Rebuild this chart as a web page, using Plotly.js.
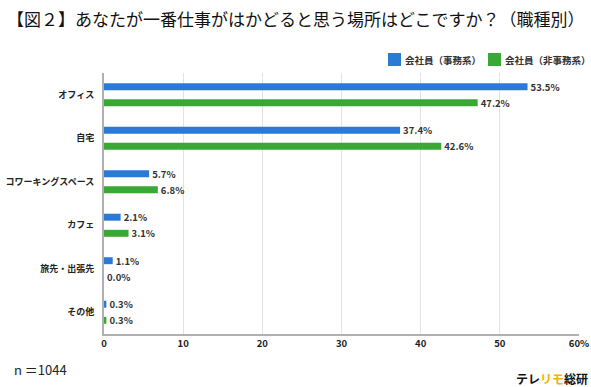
<!DOCTYPE html>
<html><head><meta charset="utf-8">
<script src="https://cdn.plot.ly/plotly-3.0.1.min.js"></script>
<style>body{margin:0;background:#fff}#c{width:591px;height:387px}</style>
</head><body><div id="c"></div>
<script>
const categories = ["オフィス","自宅","コワーキングスペース","カフェ","旅先・出張先","その他"];
const officeWorkers = [53.5, 37.4, 5.7, 2.1, 1.1, 0.3];
const nonOfficeWorkers = [47.2, 42.6, 6.8, 3.1, 0.0, 0.3];
const seriesNames = ["会社員（事務系）","会社員（非事務系）"];
const seriesColors = ['#2a7ad6', '#3aa835'];
const xTickVals = [0,10,20,30,40,50,60];
const xTickText = ["0","10","20","30","40","50","60%"];

const F = "'Noto Sans CJK JP', 'Noto Sans', sans-serif";
function tr(vals, name, color, offset){
  return {type:'bar', orientation:'h', y:categories, x:vals, name:name,
    marker:{color:color}, width:0.16, offset:offset,
    text: vals.map(v=>v.toFixed(1)+'%'), textposition:'outside', cliponaxis:false, constraintext:'none',
    textfont:{family:F, size:9.5, color:'#333', weight:'bold'}, hoverinfo:'none'};
}
const data = [tr(officeWorkers, seriesNames[0], seriesColors[0], -0.265), tr(nonOfficeWorkers, seriesNames[1], seriesColors[1], 0.105)];

// custom legend (paper coords: plot x 104..579 => 475px, y 73..334 => 261px)
const PW = 475, PH = 261, L = 104, T = 73;
const px = x => (x - L) / PW, py = y => (T + PH - y) / PH;
const legendX = [388, 488];
const shapes = legendX.map((lx,i)=>({type:'rect', xref:'paper', yref:'paper', x0:px(lx), x1:px(lx+13), y0:py(66), y1:py(53), fillcolor:seriesColors[i], line:{width:0}}));
const legendAnn = legendX.map((lx,i)=>({text:seriesNames[i], xref:'paper', yref:'paper', x:px(lx+15), y:py(59.5), xanchor:'left', yanchor:'middle', showarrow:false, font:{family:F, size:9.5, color:'#333', weight:'bold'}}));

const layout = {
  width:591, height:387, margin:{l:L, r:12, t:T, b:53},
  paper_bgcolor:'#fff', plot_bgcolor:'#fff', showlegend:false, shapes:shapes,
  title:{text:'【図２】あなたが一番仕事がはかどると思う場所はどこですか？（職種別）', font:{family:F, size:17, color:'#111'}, x:0.012, xanchor:'left', y:0.948, yanchor:'middle'},
  xaxis:{range:[0,60], tickvals:xTickVals, ticktext:xTickText, showgrid:true, gridcolor:'#e3e3e3', gridwidth:1,
    showline:true, linecolor:'#b0b0b0', linewidth:2, zeroline:false, ticks:'', tickfont:{family:F, size:9.5, color:'#222', weight:'bold'}, fixedrange:true},
  yaxis:{autorange:'reversed', showline:true, linecolor:'#b0b0b0', linewidth:2, ticks:'', ticklabelstandoff:6,
    tickfont:{family:F, size:9, color:'#222', weight:'bold'}, showgrid:false},
  annotations:legendAnn.concat([
    {text:'n ＝1044', xref:'paper', yref:'paper', x:px(12), y:py(369), xanchor:'left', yanchor:'middle', showarrow:false, font:{family:F, size:13, color:'#222'}},
    {text:'<b>テレ<span style="color:#f5b400">リモ</span>総研</b>', xref:'paper', yref:'paper', x:px(590), y:py(378), xanchor:'right', yanchor:'middle', showarrow:false, font:{family:F, size:12, color:'#111'}}
  ])
};
Plotly.newPlot('c', data, layout, {displayModeBar:false, staticPlot:true});
</script></body></html>
